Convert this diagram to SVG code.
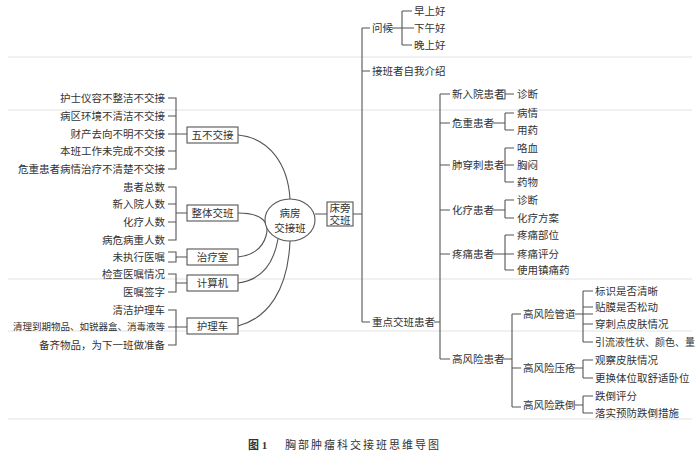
<svg xmlns="http://www.w3.org/2000/svg" width="700" height="460" viewBox="0 0 700 460">
<style>
text{font-family:"Liberation Serif","Noto Sans CJK SC",serif;font-size:10.5px;fill:#333;dominant-baseline:central}
.r{text-anchor:end}
.m{text-anchor:middle}
.ln{stroke:#555;stroke-width:1.1;fill:none}
.bx{fill:#fff;stroke:#555;stroke-width:1.1}
.pg{stroke:#e2e2e2;stroke-width:1}
</style>
<rect width="700" height="460" fill="#fff"/>
<g id="page-lines">
<line class="pg" x1="8" y1="57" x2="692" y2="57"/>
<line class="pg" x1="8" y1="110" x2="692" y2="110"/>
<line class="pg" x1="8" y1="279" x2="692" y2="279"/>
<line class="pg" x1="8" y1="331" x2="692" y2="331"/>
<line class="pg" x1="8" y1="419" x2="692" y2="419"/>
</g>
<g id="connectors" class="ln">
<path d="M168 98H176V169H168M168 116H176M168 134H187M168 151H176"/>
<path d="M168 187H176V240H168M168 204H176M168 222H176M176 213H187"/>
<path d="M168 252H176V262H168M176 257H187"/>
<path d="M168 274H176V292H168M176 283H187"/>
<path d="M168 310H176V345H168M168 327H187"/>
<path d="M238 135C270 138 288 165 290 199"/>
<path d="M238 213C262 213 270 222 266 236C262 250 250 256 238 257"/>
<path d="M238 283C262 280 274 262 278 239"/>
<path d="M238 326C268 318 288 290 290 241"/>
<path d="M315 214H327M353 214H362"/>
<path d="M362 28V322M362 28H370M362 71H370M362 322H370"/>
<path d="M392 28H414M402 11V45M402 11H412M402 45H412"/>
<path d="M434 322H440M440 94V359M440 94H450M440 123H450M440 165H450M440 210H450M440 254H450M440 359H450"/>
<path d="M497 90H505V99H497M505 94H514"/>
<path d="M492 123H505M505 113V130M505 113H514M505 130H514"/>
<path d="M504 165H514M505 148V182M505 148H514M505 182H514"/>
<path d="M492 210H505M505 200V218M505 200H514M505 218H514"/>
<path d="M492 254H514M505 235V270M505 235H514M505 270H514"/>
<path d="M502 359H512M512 314V407M512 314H521M512 368H521M512 407H521"/>
<path d="M575 314H593M583 291V342M583 291H593M583 307H593M583 324H593M583 342H593"/>
<path d="M575 368H583M583 360V378M583 360H593M583 378H593"/>
<path d="M575 405H583M583 396V413M583 396H593M583 413H593"/>
</g>
<g id="n-wubu"><text class="r" x="165" y="98">护士仪容不整洁不交接</text><text class="r" x="165" y="116">病区环境不清洁不交接</text><text class="r" x="165" y="134">财产去向不明不交接</text><text class="r" x="165" y="151">本班工作未完成不交接</text><text class="r" x="165" y="169">危重患者病情治疗不清楚不交接</text>
<rect class="bx" x="187" y="127" width="51" height="16"/><text class="m" x="212.5" y="135">五不交接</text></g>
<g id="n-zhengti"><text class="r" x="165" y="187">患者总数</text><text class="r" x="165" y="204">新入院人数</text><text class="r" x="165" y="222">化疗人数</text><text class="r" x="165" y="240">病危病重人数</text>
<rect class="bx" x="187" y="205" width="51" height="16"/><text class="m" x="212.5" y="213">整体交班</text></g>
<g id="n-zhiliao"><text class="r" x="165" y="257">未执行医嘱</text><rect class="bx" x="187" y="249" width="51" height="16"/><text class="m" x="212.5" y="257">治疗室</text></g>
<g id="n-jisuanji"><text class="r" x="165" y="274">检查医嘱情况</text><text class="r" x="165" y="292">医嘱签字</text><rect class="bx" x="187" y="275" width="51" height="16"/><text class="m" x="212.5" y="283">计算机</text></g>
<g id="n-huliche"><text class="r" x="165" y="310">清洁护理车</text><text class="r" x="165" y="327" style="font-size:9.5px">清理到期物品、如锐器盒、消毒液等</text><text class="r" x="165" y="345">备齐物品，为下一班做准备</text><rect class="bx" x="187" y="318" width="51" height="16"/><text class="m" x="212.5" y="326">护理车</text></g>
<g id="n-center"><ellipse class="bx" cx="290" cy="220" rx="25" ry="21"/><text class="m" x="290" y="213">病房</text><text class="m" x="290" y="228">交接班</text></g>
<g id="n-chuangpang"><rect class="bx" x="327" y="202" width="26" height="24"/><text class="m" x="340" y="208">床旁</text><text class="m" x="340" y="220">交班</text></g>
<g id="n-wenhou"><text x="372" y="28">问候</text><text x="414" y="11">早上好</text><text x="414" y="28">下午好</text><text x="414" y="45">晚上好</text></g>
<g id="n-jieban"><text x="372" y="71">接班者自我介绍</text></g>
<g id="n-zhongdian"><text x="372" y="322">重点交班患者</text></g>
<g id="n-xinruyuan"><text x="452" y="94">新入院患者</text><text x="517" y="94">诊断</text></g>
<g id="n-weizhong"><text x="452" y="123">危重患者</text><text x="517" y="113">病情</text><text x="517" y="130">用药</text></g>
<g id="n-feichuanci"><text x="452" y="165">肺穿刺患者</text><text x="517" y="148">咯血</text><text x="517" y="165">胸闷</text><text x="517" y="182">药物</text></g>
<g id="n-hualiao"><text x="452" y="210">化疗患者</text><text x="517" y="200">诊断</text><text x="517" y="218">化疗方案</text></g>
<g id="n-tengtong"><text x="452" y="254">疼痛患者</text><text x="517" y="235">疼痛部位</text><text x="517" y="254">疼痛评分</text><text x="517" y="270">使用镇痛药</text></g>
<g id="n-gaofengxian"><text x="452" y="359">高风险患者</text></g>
<g id="n-guandao"><text x="523" y="314">高风险管道</text><text x="595" y="291">标识是否清晰</text><text x="595" y="307">贴膜是否松动</text><text x="595" y="324">穿刺点皮肤情况</text><text x="595" y="342" style="font-size:10px">引流液性状、颜色、量</text></g>
<g id="n-yachuang"><text x="523" y="368">高风险压疮</text><text x="595" y="360">观察皮肤情况</text><text x="595" y="378">更换体位取舒适卧位</text></g>
<g id="n-diedao"><text x="523" y="405">高风险跌倒</text><text x="595" y="396">跌倒评分</text><text x="595" y="413">落实预防跌倒措施</text></g>
<g id="caption"><text x="248" y="445" style="font-weight:bold;font-size:11px">图 1</text><text x="285" y="445" style="font-size:11px;letter-spacing:2px">胸部肿瘤科交接班思维导图</text></g>
</svg>
